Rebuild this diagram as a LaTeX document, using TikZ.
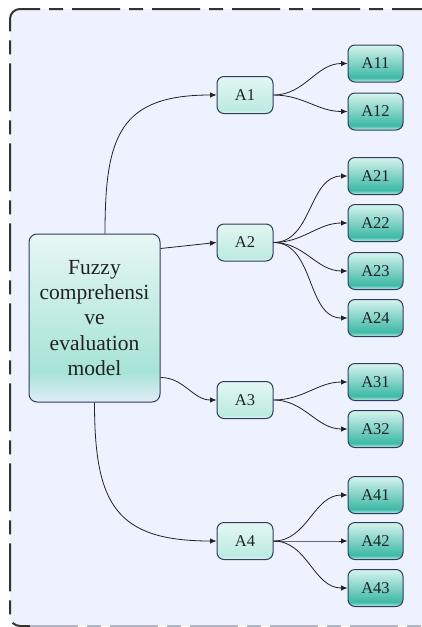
\documentclass[tikz,border=0pt]{standalone}
\usepackage{fontspec}
\setmainfont{Liberation Serif}
\usetikzlibrary{arrows.meta}

\definecolor{paneblue}{HTML}{EDF2FE}
\definecolor{rimdark}{HTML}{333333}
\definecolor{rimgray}{HTML}{B2B6C2}
\definecolor{boxline}{HTML}{2F3C5C}
\definecolor{inkdark}{HTML}{222222}
\definecolor{modelTop}{HTML}{E7F7F4}
\definecolor{modelMid}{HTML}{A7E3D7}
\definecolor{modelLow}{HTML}{E2ECF8}
\definecolor{levelTop}{HTML}{E3F6F2}
\definecolor{levelMid}{HTML}{BDEBE1}
\definecolor{levelLow}{HTML}{DDF3EF}
\definecolor{leafTop}{HTML}{D6F3EE}
\definecolor{leafMid}{HTML}{3DB9A6}
\definecolor{leafLow}{HTML}{BFEBE2}

\pgfdeclareverticalshading{modelshade}{100bp}{color(0bp)=(modelLow); color(25bp)=(modelLow); color(34bp)=(modelMid); color(75bp)=(modelTop); color(100bp)=(modelTop)}
\pgfdeclareverticalshading{levelshade}{100bp}{color(0bp)=(levelLow); color(25bp)=(levelLow); color(30bp)=(levelMid); color(75bp)=(levelTop); color(100bp)=(levelTop)}
\pgfdeclareverticalshading{leafshade}{100bp}{color(0bp)=(leafLow); color(25bp)=(leafLow); color(31bp)=(leafMid); color(75bp)=(leafTop); color(100bp)=(leafTop)}

\begin{document}
\begin{tikzpicture}[x=1pt, y=1pt,
		model/.style={draw=boxline, line width=1pt, rounded corners=8pt, shading=modelshade,
			minimum width=131pt, minimum height=168pt, align=center, text=inkdark,
			font=\fontsize{21.5}{25.3}\selectfont},
		level/.style={draw=boxline, line width=1pt, rounded corners=7pt, shading=levelshade,
			minimum width=56pt, minimum height=37pt, text=inkdark, font=\fontsize{16.5}{19}\selectfont},
		leaf/.style={draw=boxline, line width=1pt, rounded corners=7pt, shading=leafshade,
			minimum width=55pt, minimum height=37pt, text=inkdark, font=\fontsize{16.5}{19}\selectfont},
		link/.style={-{Latex[length=6.5pt, width=5.5pt]}, draw=inkdark, line width=0.8pt}]
		\useasboundingbox (0, 0) rectangle (422, -627);
		% frame
		\fill[paneblue, rounded corners=10pt] (10, -9) rectangle (460, -626);
		\draw[rimdark, line width=2pt, rounded corners=10pt, dash pattern=on 48pt off 9pt on 14pt off 9pt]
		(440, -9) -- (10, -9) -- (10, -626) -- (30, -626);
		\draw[rimgray, line width=2pt, dash pattern=on 48pt off 9pt on 14pt off 9pt]
		(30, -626) -- (440, -626);
		% nodes
		\node[model] (main) at (94.5, -318) {Fuzzy\\comprehensi\\ve\\evaluation\\model};
		\node[level] (A1) at (245, -95) {A1};
		\node[level] (A2) at (245, -242.5) {A2};
		\node[level] (A3) at (245, -400) {A3};
		\node[level] (A4) at (245, -541) {A4};
		\node[leaf] (A11) at (375.5, -63.5) {A11};
		\node[leaf] (A12) at (375.5, -111.5) {A12};
		\node[leaf] (A21) at (375.5, -176) {A21};
		\node[leaf] (A22) at (375.5, -223) {A22};
		\node[leaf] (A23) at (375.5, -271) {A23};
		\node[leaf] (A24) at (375.5, -318) {A24};
		\node[leaf] (A31) at (375.5, -382) {A31};
		\node[leaf] (A32) at (375.5, -429) {A32};
		\node[leaf] (A41) at (375.5, -495) {A41};
		\node[leaf] (A42) at (375.5, -541) {A42};
		\node[leaf] (A43) at (375.5, -588) {A43};
		% links
		\draw[link] ([xshift=10.5pt]main.north) to[out=90, in=180, looseness=1.4] (A1.west);
		\draw[link] ([yshift=-15pt]main.north east) -- (A2.west);
		\draw[link] ([yshift=25pt]main.south east) to[out=0, in=180] (A3.west);
		\draw[link] (main.south) to[out=-90, in=180, looseness=1.4] (A4.west);
		\draw[link] (A1.east) to[out=0, in=180] (A11.west);
		\draw[link] (A1.east) to[out=0, in=180] (A12.west);
		\draw[link] (A2.east) to[out=0, in=180] (A21.west);
		\draw[link] (A2.east) to[out=0, in=180] (A22.west);
		\draw[link] (A2.east) to[out=0, in=180] (A23.west);
		\draw[link] (A2.east) to[out=0, in=180] (A24.west);
		\draw[link] (A3.east) to[out=0, in=180] (A31.west);
		\draw[link] (A3.east) to[out=0, in=180] (A32.west);
		\draw[link] (A4.east) to[out=0, in=180] (A41.west);
		\draw[link] (A4.east) to[out=0, in=180] (A42.west);
		\draw[link] (A4.east) to[out=0, in=180] (A43.west);
	\end{tikzpicture}
\end{document}
